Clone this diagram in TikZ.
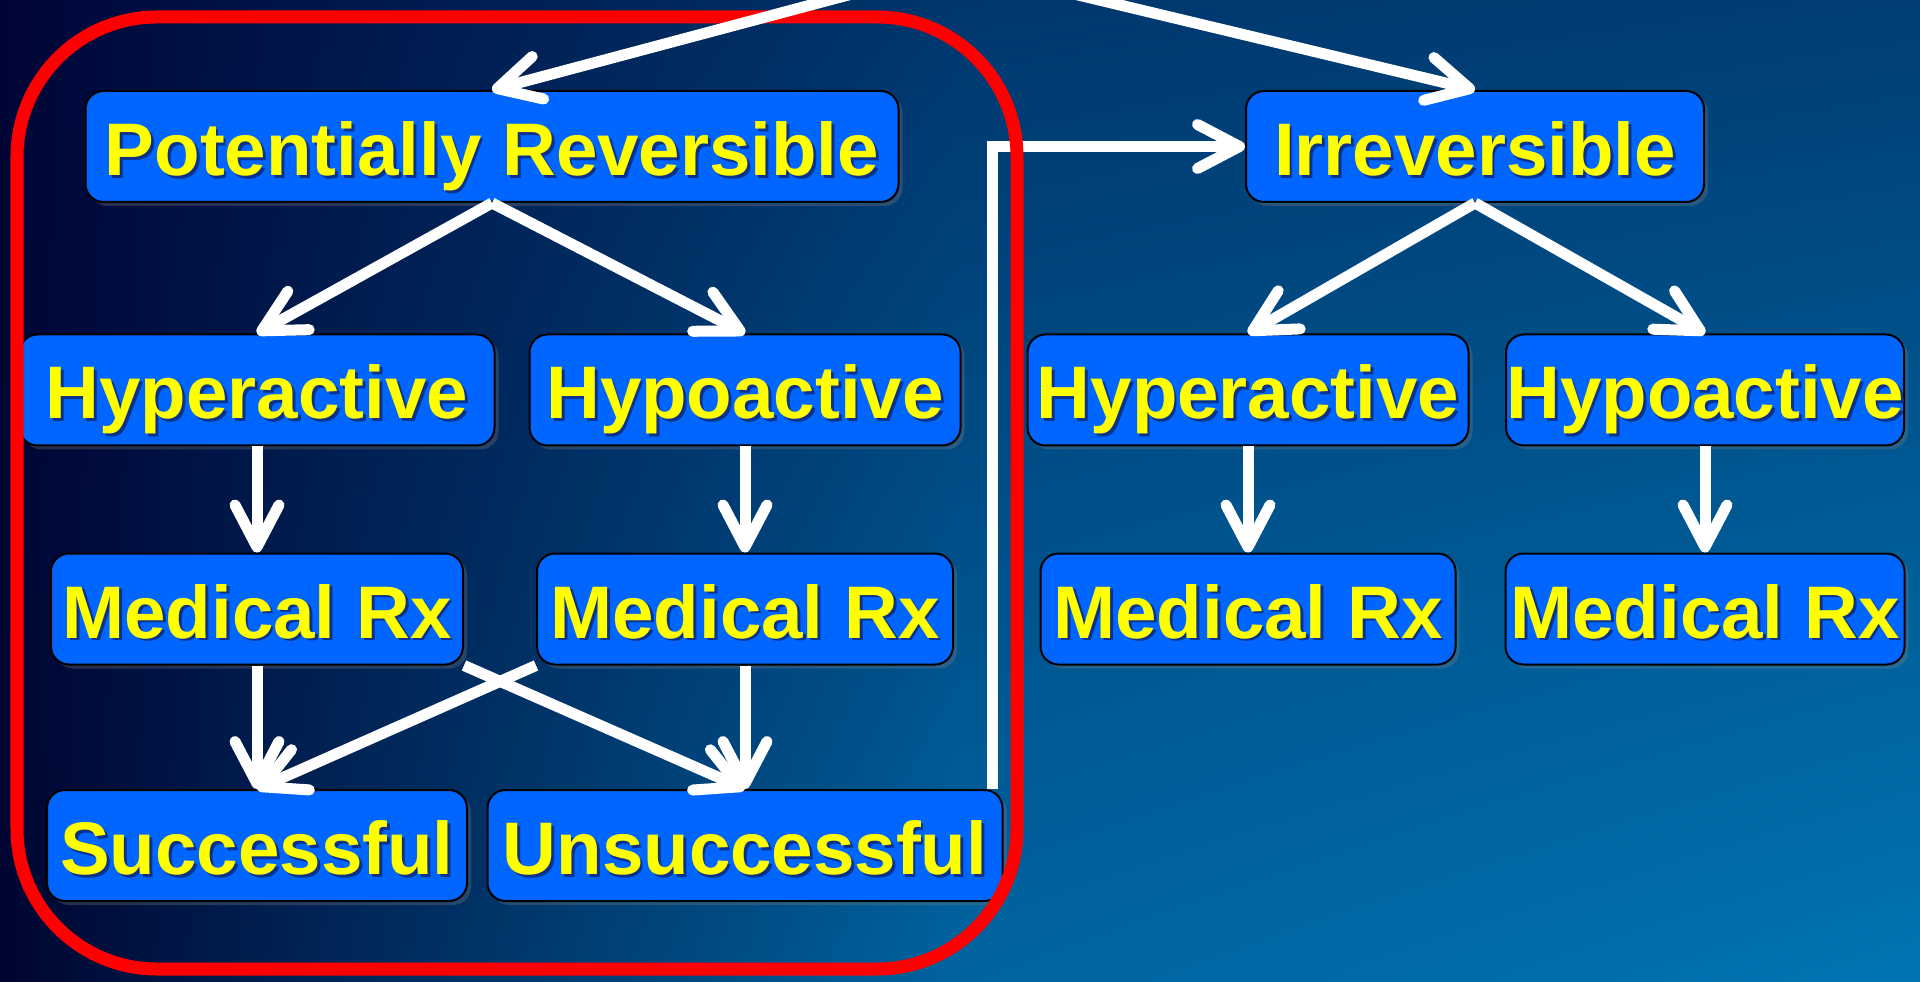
\documentclass[tikz,border=0pt]{standalone}
\usepackage{fontspec}
\setmainfont{Liberation Sans}
\usetikzlibrary{arrows.meta, shadows, shadings}
\definecolor{bgdark}{RGB}{0,5,55}
\definecolor{bgdarkb}{RGB}{0,5,48}
\definecolor{bgmidtop}{RGB}{0,55,110}
\definecolor{bgmidbot}{RGB}{0,100,160}
\definecolor{bgtopright}{RGB}{0,62,117}
\definecolor{bgbotright}{RGB}{0,117,178}
\definecolor{boxblue}{RGB}{0,102,255}
\definecolor{txtyellow}{RGB}{255,255,0}
\definecolor{txtshadow}{RGB}{10,50,140}
\newcommand{\shtxt}[1]{\makebox[0pt][l]{\hspace{0.028cm}\raisebox{-0.028cm}{\color{txtshadow}#1}}#1}
\tikzstyle{flowbox} = [rectangle, rounded corners=0.18cm, minimum height=1.11cm, inner xsep=0pt, inner ysep=0pt, text height=0.58cm, text depth=0cm, draw=black, line width=0.02cm, fill=boxblue, text=txtyellow, font=\fontsize{21.2}{25}\selectfont\bfseries, drop shadow={shadow xshift=0.04cm, shadow yshift=-0.04cm, opacity=0.3}]
\tikzstyle{arrow} = [white, line width=0.11cm, -{Straight Barb[length=0.42cm, width=0.44cm, round]}]
\tikzstyle{groupframe} = [draw=red, line width=0.13cm, rounded corners=1.4cm]
\begin{document}
\begin{tikzpicture}[node distance=2.3cm]
\useasboundingbox (0,0) rectangle (19.2,9.81);
\clip (0,0) rectangle (19.2,9.81);
\shade[upper left=bgdark, upper right=bgmidtop, lower left=bgdarkb, lower right=bgmidbot] (0,0) rectangle (9.6,9.81);
\shade[upper left=bgmidtop, upper right=bgtopright, lower left=bgmidbot, lower right=bgbotright] (9.6,0) rectangle (19.2,9.81);
\coordinate (src) at (9.57,10.15);
\node (pr) [flowbox, minimum width=8.13cm] at (4.92,8.345) {\shtxt{Potentially Reversible}};
\node (irrev) [flowbox, minimum width=4.58cm, right of=pr, xshift=7.53cm] {\shtxt{Irreversible}};
\node (hyperl) [flowbox, minimum width=4.75cm, below of=pr, xshift=-2.35cm, yshift=-0.135cm] {\shtxt{Hyperactive}};
\node (hypol) [flowbox, minimum width=4.31cm, below of=pr, xshift=2.53cm, yshift=-0.135cm] {\shtxt{Hypoactive}};
\node (hyperr) [flowbox, minimum width=4.41cm, below of=irrev, xshift=-2.27cm, yshift=-0.135cm] {\shtxt{Hyperactive}};
\node (hypor) [flowbox, minimum width=3.98cm, below of=irrev, xshift=2.3cm, yshift=-0.135cm] {\shtxt{Hypoactive}};
\node (medl1) [flowbox, minimum width=4.12cm, below of=hyperl, yshift=0.11cm] {\shtxt{Medical Rx}};
\node (medl2) [flowbox, minimum width=4.16cm, below of=hypol, yshift=0.11cm] {\shtxt{Medical Rx}};
\node (medr1) [flowbox, minimum width=4.15cm, below of=hyperr, yshift=0.11cm] {\shtxt{Medical Rx}};
\node (medr2) [flowbox, minimum width=3.99cm, below of=hypor, yshift=0.11cm] {\shtxt{Medical Rx}};
\node (succ) [flowbox, minimum width=4.2cm, below of=medl1, yshift=-0.065cm] {\shtxt{Successful}};
\node (unsucc) [flowbox, minimum width=5.15cm, below of=medl2, yshift=-0.065cm] {\shtxt{Unsuccessful}};
\draw [arrow] ([xshift=-0.11cm]unsucc.north east) |- (irrev.west);
\draw [groupframe] (0.17,0.12) rectangle (10.17,9.64);
\draw [arrow] (src) -- (pr.north);
\draw [arrow] (src) -- (irrev.north);
\draw [arrow] (pr.south) -- (hyperl.north);
\draw [arrow] (pr.south) -- (hypol.north);
\draw [arrow] (irrev.south) -- (hyperr.north);
\draw [arrow] (irrev.south) -- (hypor.north);
\draw [arrow] (hyperl) -- (medl1);
\draw [arrow] (hypol) -- (medl2);
\draw [arrow] (hyperr) -- (medr1);
\draw [arrow] (hypor) -- (medr2);
\draw [arrow] (medl1) -- (succ);
\draw [arrow] (medl2) -- (unsucc);
\draw [arrow] (medl1.south east) -- (unsucc.north);
\draw [arrow] (medl2.south west) -- (succ.north);
\end{tikzpicture}
\end{document}
